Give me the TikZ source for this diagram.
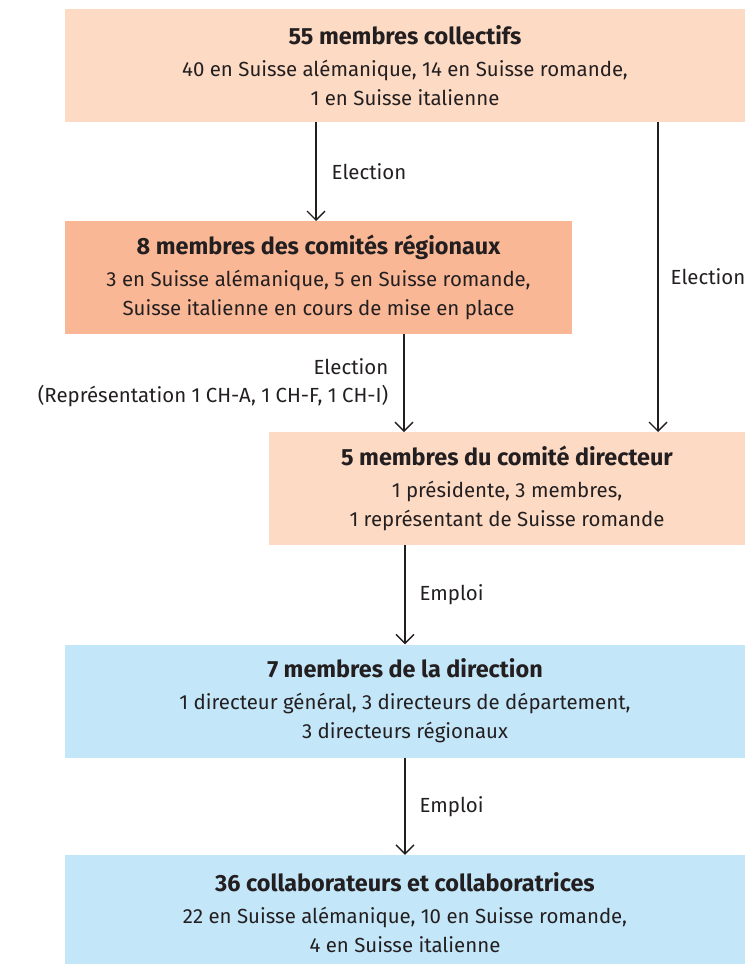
\documentclass[tikz,border=0pt]{standalone}
\usepackage{fontspec}
\setmainfont{Fira Sans}
\usetikzlibrary{arrows.meta}
\definecolor{peach}{HTML}{FDDAC4}
\definecolor{salmon}{HTML}{F9B796}
\definecolor{sky}{HTML}{C4E6F9}
\definecolor{ink}{HTML}{231F20}
\newcommand{\boxtitle}[1]{{\fontsize{23.5}{29}\selectfont\bfseries #1}}
\begin{document}
\begin{tikzpicture}[x=1bp, y=-1bp,
    box/.style={inner sep=0pt, minimum height=113bp, align=center, text=ink,
      font=\fontsize{20.5}{29}\selectfont},
    link/.style={draw=ink, line width=1.4bp, -{Straight Barb[length=9bp, width=18bp, line width=1.4bp]}},
    lab/.style={text=ink, font=\fontsize{20.5}{28}\selectfont, inner sep=0pt}]
  \useasboundingbox (0,0) rectangle (747,964);

  \node [box, fill=peach, minimum width=680bp] (top) at (405,65.5)
    {\boxtitle{55 membres collectifs}\\[3bp]40 en Suisse alémanique, 14 en Suisse romande,\\1 en Suisse italienne};
  \node [box, fill=salmon, minimum width=507bp] (regio) at (318.5,277.5)
    {\boxtitle{8 membres des comités régionaux}\\[3bp]3 en Suisse alémanique, 5 en Suisse romande,\\Suisse italienne en cours de mise en place};
  \node [box, fill=peach, minimum width=476bp] (comite) at (507,488.5)
    {\boxtitle{5 membres du comité directeur}\\[3bp]1 présidente, 3 membres,\\1 représentant de Suisse romande};
  \node [box, fill=sky, minimum width=680bp] (direction) at (405,701)
    {\boxtitle{7 membres de la direction}\\[3bp]1 directeur général, 3 directeurs de département,\\3 directeurs régionaux};
  \node [box, fill=sky, minimum width=680bp, minimum height=115bp] (collab) at (405,912.5)
    {\boxtitle{36 collaborateurs et collaboratrices}\\[3bp]22 en Suisse alémanique, 10 en Suisse romande,\\4 en Suisse italienne};

  % arrow ends
  \coordinate (e1) at (316,221);
  \coordinate (e2) at (658,432);
  \coordinate (e3) at (404,432);

  \draw [link] (e1 |- top.south) -- (e1) node [midway, right=15bp, lab] {Election};
  \draw [link] (e2 |- top.south) -- (e2) node [midway, right=12bp, lab] {Election};
  \draw [link] (e3 |- regio.south) -- (e3)
    node [midway, left=15bp, lab, align=right] {Election\\(Représentation 1 CH-A, 1 CH-F, 1 CH-I)};
  \draw [link] (comite.south -| direction.north) -- (direction.north)
    node [midway, right=14bp, lab] {Emploi};
  \draw [link] (direction.south) -- (collab.north)
    node [midway, right=14bp, lab] {Emploi};
\end{tikzpicture}
\end{document}
